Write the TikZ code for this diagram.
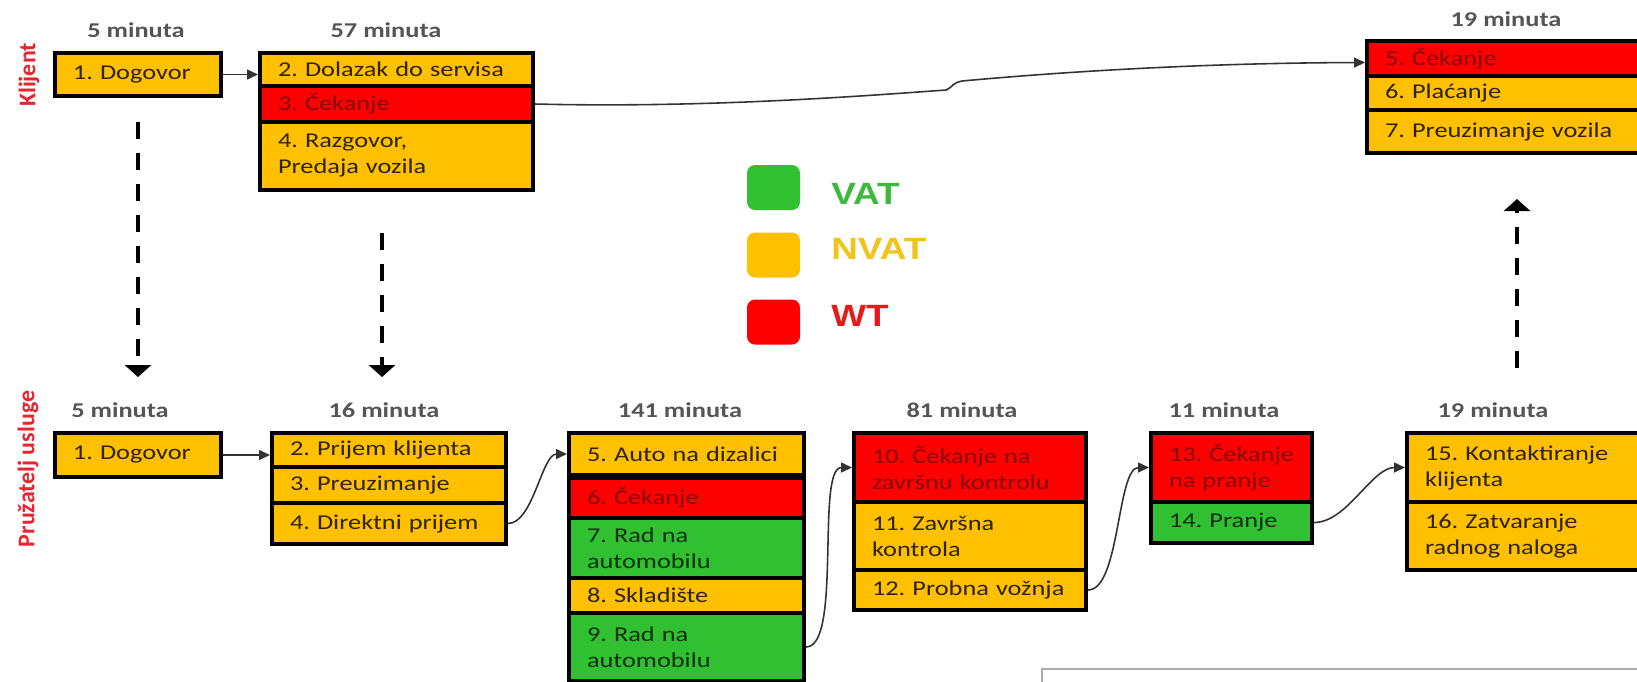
\documentclass[tikz,border=0pt]{standalone}
\usepackage{fontspec}
\setmainfont[FakeStretch=1.25]{Carlito}
\newfontfamily\vlabelfont{Carlito}
\newfontfamily\legendfont[FakeStretch=1.2]{Liberation Sans}
\usetikzlibrary{arrows.meta}
\definecolor{nvat}{HTML}{FFC000}
\definecolor{wt}{HTML}{FF0000}
\definecolor{vat}{HTML}{31C031}
\definecolor{txtO}{HTML}{2E2200}
\definecolor{txtR}{HTML}{850808}
\definecolor{txtG}{HTML}{0C300C}
\definecolor{minc}{HTML}{555555}
\definecolor{lblred}{HTML}{E8242F}
\definecolor{vatt}{HTML}{3DB93D}
\definecolor{nvatt}{HTML}{F2C318}
\definecolor{wtt}{HTML}{E41B1B}
\definecolor{connc}{HTML}{333333}
\newcommand\boxfs{\fontsize{12pt}{14.8pt}\selectfont}
\newcommand\cell[7]{%
  \pgfmathsetmacro\rbxw{(#4-#2)*0.02}%
  \pgfmathsetmacro\rbxh{(#5-#3)*0.02}%
  \pgfmathsetmacro\rbxt{(#4-#2-36)*0.02}%
  \node[#6, minimum width=\rbxw cm, minimum height=\rbxh cm, text width=\rbxt cm] (#1) at ({(#2+#4)/2},{(#3+#5)/2}) {#7};}
\begin{document}
\begin{tikzpicture}[x=0.02cm,y=-0.02cm,
  cellbase/.style={draw=black, line width=0.08cm, inner xsep=0pt, inner ysep=0pt, align=left, font=\boxfs},
  cellO/.style={cellbase, fill=nvat, text=txtO},
  cellR/.style={cellbase, fill=wt, text=txtR},
  cellG/.style={cellbase, fill=vat, text=txtG},
  minl/.style={font=\bfseries\fontsize{12pt}{14pt}\selectfont, text=minc, inner sep=0pt},
  vlab/.style={font=\vlabelfont\bfseries\fontsize{13.6pt}{15pt}\selectfont, text=lblred, inner sep=0pt, rotate=90},
  legsq/.style={minimum width=1.06cm, minimum height=0.9cm, rounded corners=0.16cm, inner sep=0pt},
  legtxt/.style={font=\legendfont\bfseries\fontsize{17.5pt}{20pt}\selectfont, inner sep=0pt, anchor=west},
  conn/.style={draw=connc, line width=0.9pt, -{Triangle[length=0.22cm,width=0.2cm]}},
  dasharrow/.style={draw=black, line width=0.08cm, dash pattern=on 0.34cm off 0.28cm, -{Triangle[length=0.24cm,width=0.52cm]}}
]
\useasboundingbox (0,0) rectangle (1637,681);
\clip (0,0) rectangle (1637,681);

% side labels
\node[vlab] (lklijent) at (29,75) {Klijent};
\node[vlab] (lpruz) at (28,469) {Pružatelj usluge};

% time labels
\node[minl] (mk1) at (136,30) {5 minuta};
\node[minl] (mk2) at (386,30) {57 minuta};
\node[minl] (mk3) at (1506,19) {19 minuta};
\node[minl] (mp1) at (120,410) {5 minuta};
\node[minl] (mp2) at (384,410) {16 minuta};
\node[minl] (mp3) at (680,410) {141 minuta};
\node[minl] (mp4) at (962,410) {81 minuta};
\node[minl] (mp5) at (1224,410) {11 minuta};
\node[minl] (mp6) at (1493,410) {19 minuta};

% client row
\cell{k1}{55}{53}{221}{96}{cellO}{1.~Dogovor}
\cell{k2}{260}{53}{533}{86}{cellO}{2.~Dolazak~do~servisa}
\cell{k3}{260}{86}{533}{122}{cellR}{3.~Čekanje}
\cell{k4}{260}{122}{533}{190}{cellO}{4.~Razgovor,\\Predaja~vozila}
\cell{k5}{1367}{41}{1660}{76}{cellR}{5.~Čekanje}
\cell{k6}{1367}{76}{1660}{110}{cellO}{6.~Plaćanje}
\cell{k7}{1367}{110}{1660}{153}{cellO}{7.~Preuzimanje~vozila}

% provider row
\cell{p1}{55}{433}{221}{477}{cellO}{1.~Dogovor}
\cell{p2}{272}{433}{506}{467}{cellO}{2.~Prijem~klijenta}
\cell{p3}{272}{467}{506}{503}{cellO}{3.~Preuzimanje}
\cell{p4}{272}{503}{506}{544}{cellO}{4.~Direktni~prijem}
\cell{p5}{569}{433}{804}{475}{cellO}{5.~Auto~na~dizalici}
\cell{p6}{569}{478}{804}{518}{cellR}{6.~Čekanje}
\cell{p7}{569}{518}{804}{578}{cellG}{7.~Rad~na\\automobilu}
\cell{p8}{569}{578}{804}{613}{cellO}{8.~Skladište}
\cell{p9}{569}{613}{804}{681}{cellG}{9.~Rad~na\\automobilu}
\cell{p10}{854}{433}{1086}{502}{cellR}{10.~Čekanje~na\\završnu~kontrolu}
\cell{p11}{854}{502}{1086}{570}{cellO}{11.~Završna\\kontrola}
\cell{p12}{854}{570}{1086}{610}{cellO}{12.~Probna~vožnja}
\cell{p13}{1151}{433}{1312}{502}{cellR}{13.~Čekanje\\na~pranje}
\cell{p14}{1151}{502}{1312}{543}{cellG}{14.~Pranje}
\cell{p15}{1407}{433}{1660}{502}{cellO}{15.~Kontaktiranje\\klijenta}
\cell{p16}{1407}{502}{1660}{570}{cellO}{16.~Zatvaranje\\radnog~naloga}

% legend
\node[legsq, fill=vat] (lgv) at (773.5,187.5) {};
\node[legsq, fill=nvat] (lgn) at (773.5,255) {};
\node[legsq, fill=wt] (lgw) at (773.5,322) {};
\node[legtxt, text=vatt] (tvat) at (831,194) {VAT};
\node[legtxt, text=nvatt] (tnvat) at (831,249) {NVAT};
\node[legtxt, text=wtt] (twt) at (831,316) {WT};

% connectors
\draw[conn] (k1.east) -- (k1.east -| k2.west);
\draw[conn] (p1.east) -- (p1.east -| p2.west);
\coordinate (kk1) at (946,90);
\coordinate (kk2) at (962,81);
\draw[conn] (k3.east) .. controls (700,108) and (850,97) .. (kk1)
  .. controls (953,87) and (952,83) .. (kk2)
  .. controls (1060,72) and (1200,63) .. ([yshift=-0.08cm]k5.west);
\draw[conn] (p4.east) to[out=0,in=180,looseness=0.7] (p5.west);
\draw[conn] (p9.east) to[out=0,in=180,looseness=0.5] (p10.west);
\draw[conn] (p12.east) to[out=0,in=180,looseness=0.6] (p13.west);
\draw[conn] (p14.east) to[out=0,in=180,looseness=0.8] (p15.west);

% dashed arrows
\coordinate (d1s) at (138,122);
\coordinate (d1e) at (138,377);
\coordinate (d2s) at (382,233);
\coordinate (d2e) at (382,377);
\coordinate (d3s) at (1517,368);
\coordinate (d3e) at (1517,199);
\draw[dasharrow] (d1s) -- (d1e);
\draw[dasharrow] (d2s) -- (d2e);
\draw[dasharrow] (d3s) -- (d3e);

% partial frame at bottom right
\draw[line width=0.04cm, draw=gray!65] (1042,669) rectangle (1700,760);
\end{tikzpicture}
\end{document}
